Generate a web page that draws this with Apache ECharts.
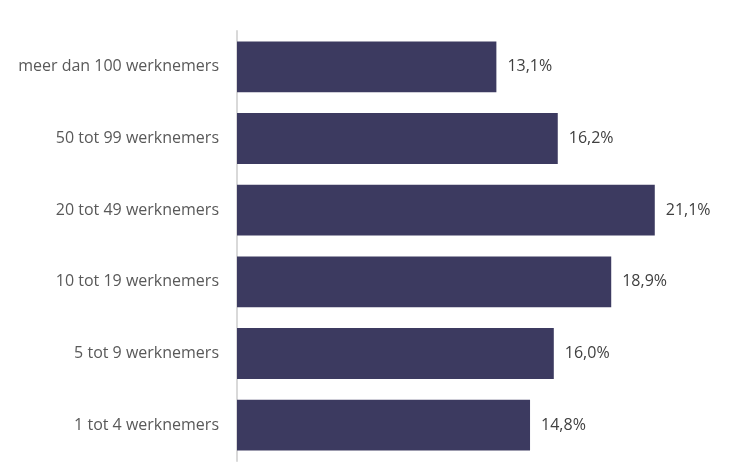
<!DOCTYPE html>
<html><head><meta charset="utf-8">
<script src="https://cdn.jsdelivr.net/npm/echarts@6/dist/echarts.min.js"></script>
<style>html,body{margin:0;padding:0;background:#fff}#c{width:755px;height:475px}</style>
</head><body><div id="c"></div>
<script>
const categories = ["1 tot 4 werknemers","5 tot 9 werknemers","10 tot 19 werknemers","20 tot 49 werknemers","50 tot 99 werknemers","meer dan 100 werknemers"];
const values = [14.8, 16.0, 18.9, 21.1, 16.2, 13.1];
const chart = echarts.init(document.getElementById('c'));
chart.setOption({
  animation:false,
  grid:{left:237, top:31, bottom:14, width:495},
  xAxis:{type:'value', min:0, max:25, show:false},
  yAxis:{type:'category', data:categories,
    axisLine:{lineStyle:{color:'#d9d9d9', width:2}},
    axisTick:{show:false},
    axisLabel:{color:'#595959', fontFamily:'Open Sans', fontSize:16, margin:18}},
  series:[{type:'bar', data:values, barCategoryGap:'29%',
    itemStyle:{color:'#3c3a60'},
    label:{show:true, position:'right', distance:11, color:'#404040', fontFamily:'Open Sans', fontSize:16,
      formatter:p=>p.value.toFixed(1).replace('.',',')+'%'}}]
});
</script></body></html>
